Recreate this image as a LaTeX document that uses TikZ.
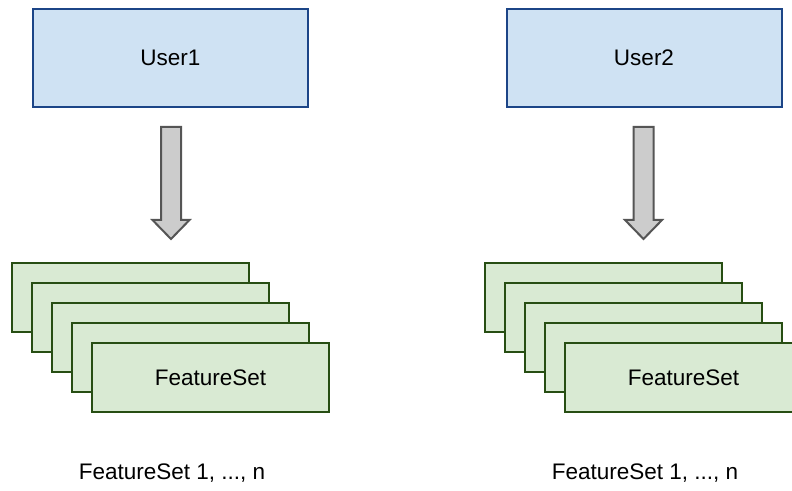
\documentclass[tikz,border=0pt]{standalone}
\usepackage{fontspec}
\setmainfont{Liberation Sans}
\usetikzlibrary{calc}
\definecolor{userfill}{HTML}{CFE2F3}
\definecolor{userdraw}{HTML}{1C4587}
\definecolor{cardfill}{HTML}{D9EAD3}
\definecolor{carddraw}{HTML}{274E13}
\definecolor{arrowfill}{HTML}{CCCCCC}
\definecolor{arrowdraw}{HTML}{555555}
\tikzset{
  userbox/.style={draw=userdraw, fill=userfill, line width=2pt, minimum width=275pt, minimum height=98pt, inner sep=0pt, font=\fontsize{22.5}{27}\selectfont},
  cardbox/.style={draw=carddraw, fill=cardfill, line width=2pt, minimum width=237pt, minimum height=69pt, inner sep=0pt, font=\fontsize{22.5}{27}\selectfont},
  caption/.style={anchor=base, inner sep=0pt, font=\fontsize{22.5}{27}\selectfont},
  blockarrow/.style={draw=arrowdraw, fill=arrowfill, line width=2pt, line join=miter},
}
\begin{document}
\begin{tikzpicture}[x=1pt,y=1pt]
\useasboundingbox (0,0) rectangle (792,490);
\clip (0,0) rectangle (792,490);
% users
\node[userbox] (u1) at (170.5,432) {User1};
\node[userbox] (u2) at (644,432) {User2};
% arrows
\foreach \u/\dx in {u1/0.5,u2/-0.5}{
  \coordinate (t) at ($(\u.south)+(\dx,-19)$);
  \draw[blockarrow] ($(t)+(-10,0)$) -- ($(t)+(10,0)$) -- ($(t)+(10,-93)$) -- ($(t)+(18.5,-93)$)
     -- ($(t)+(0,-112)$) -- ($(t)+(-18.5,-93)$) -- ($(t)+(-10,-93)$) -- cycle;
}
% card stacks
\foreach \i in {0,1,2,3}{
  \node[cardbox] (a\i) at (130.5+20*\i,192.5-20*\i) {};
  \node[cardbox] (b\i) at (603.5+20*\i,192.5-20*\i) {};
}
\node[cardbox] (a4) at (210.5,112.5) {FeatureSet};
\node[cardbox] (b4) at (683.5,112.5) {FeatureSet};
% captions
\node[caption] (c1) at (172,11) {FeatureSet 1, ..., n};
\node[caption] (c2) at (645,11) {FeatureSet 1, ..., n};
\end{tikzpicture}
\end{document}
